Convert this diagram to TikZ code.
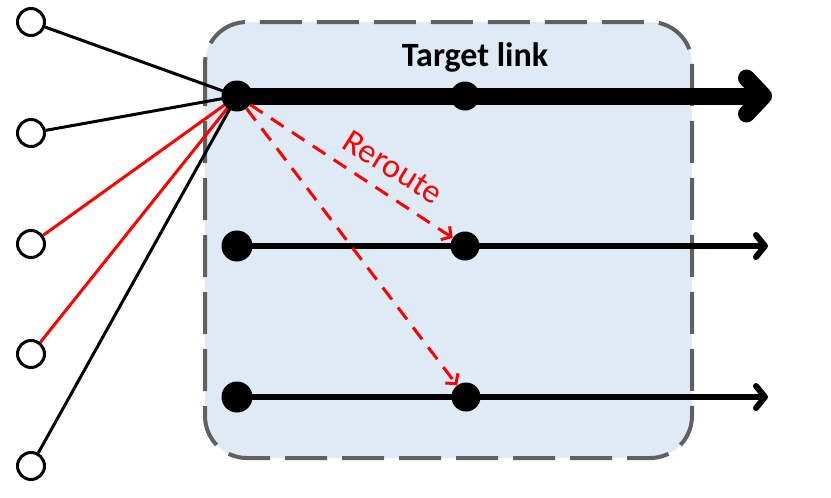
\documentclass[tikz,border=0pt]{standalone}
\usepackage{fontspec}
\newfontfamily\calibri{Carlito}
\usetikzlibrary{arrows.meta}
\definecolor{boxfill}{RGB}{222,234,246}
\definecolor{boxedge}{RGB}{96,96,96}
\pgfdeclarelayer{bg}
\pgfsetlayers{bg,main}
\begin{document}
\begin{tikzpicture}[x=1pt,y=-1pt,
  leaf/.style={circle,draw=black,fill=white,line width=3pt,minimum size=27pt,inner sep=0pt},
  dot/.style={circle,fill=black,minimum size=31pt,inner sep=0pt},
  mdot/.style={circle,fill=black,minimum size=29pt,inner sep=0pt},
  feed/.style={line width=3pt},
  rowarrow/.style={line width=6pt,-{Straight Barb[length=9pt,width=22pt,round]}},
  targetarrow/.style={line width=17pt,-{Straight Barb[length=17pt,width=36pt,round]}},
  reroute/.style={red,line width=3pt,dash pattern=on 15pt off 10pt,-{Straight Barb[length=7pt,width=16pt]}},
  region/.style={draw=boxedge,fill=boxfill,line width=4pt,dash pattern=on 42pt off 15pt,rounded corners=42pt}
]
\useasboundingbox (0,0) rectangle (831,498);
% nodes
\node[leaf] (l1) at (31,22) {};
\node[leaf] (l2) at (31,133) {};
\node[leaf] (l3) at (31,244) {};
\node[leaf] (l4) at (31,354) {};
\node[leaf] (l5) at (31,466) {};
\node[dot] (hub) at (237,96) {};
\node[mdot] (t) at (465,96) {};
\node[dot] (a) at (237,246) {};
\node[mdot] (b) at (465,246) {};
\node[dot] (c) at (237,397) {};
\node[mdot] (d) at (466,397) {};
\coordinate (tend) at (772,96);
\coordinate (aend) at (768,246);
\coordinate (cend) at (768,397);
\node[font=\calibri\bfseries\fontsize{34}{40}\selectfont,anchor=base] (title) at (475,66) {Target link};
\node[red,font=\calibri\fontsize{34}{40}\selectfont,rotate=-32] (rr) at (393,167) {Reroute};
\begin{pgfonlayer}{bg}
\draw[region] (205,22) rectangle (692,458);
\draw[feed] (l1) -- (hub.center);
\draw[feed] (l2) -- (hub.center);
\draw[feed,red] (l3) -- (hub.center);
\draw[feed,red] (l4) -- (hub.center);
\draw[feed] (l5) -- (hub.center);
\draw[targetarrow] (hub.center) -- (tend);
\draw[rowarrow] (a.center) -- (aend);
\draw[rowarrow] (c.center) -- (cend);
\draw[reroute] (hub) -- (b);
\draw[reroute] (hub) -- (d);
\end{pgfonlayer}
\end{tikzpicture}
\end{document}
